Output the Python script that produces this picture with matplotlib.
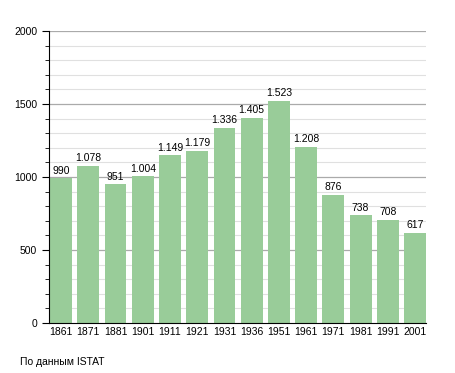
import matplotlib.pyplot as plt
import numpy as np

years = ['1861', '1871', '1881', '1901', '1911', '1921', '1931', '1936',
         '1951', '1961', '1971', '1981', '1991', '2001']
population = [990, 1078, 951, 1004, 1149, 1179, 1336, 1405,
              1523, 1208, 876, 738, 708, 617]
labels = ['990', '1.078', '951', '1.004', '1.149', '1.179', '1.336', '1.405',
          '1.523', '1.208', '876', '738', '708', '617']

plt.rcParams['font.family'] = ['Liberation Sans', 'DejaVu Sans']

fig = plt.figure(figsize=(4.55, 3.73), dpi=100)
ax = fig.add_axes([49 / 455, 1 - 323 / 373, 377 / 455, 292 / 373])

x = np.arange(len(years))
ax.bar(x, population, width=0.8, color='#99cc99', zorder=2)
for xi, v, lab in zip(x, population, labels):
    ax.text(xi, v + 18, lab, ha='center', va='bottom', fontsize=7.5)

ax.set_ylim(0, 2000)
ax.set_xlim(-0.44, 13.4)
ax.set_yticks(np.arange(0, 2001, 500))
ax.set_yticks(np.arange(0, 2001, 100), minor=True)
for y in range(100, 2001, 100):
    if y % 500 == 0:
        ax.axhline(y, color='#aaaaaa', lw=0.9, zorder=1)
    else:
        ax.axhline(y, color='#e0e0e0', lw=0.8, zorder=1)

ax.set_xticks(x)
ax.set_xticklabels(years)
ax.tick_params(axis='x', length=0, labelsize=7.5, pad=3)
ax.tick_params(axis='y', which='major', length=5, labelsize=7.5, direction='out')
ax.tick_params(axis='y', which='minor', length=3, direction='out')
for s in ['top', 'right']:
    ax.spines[s].set_visible(False)
ax.spines['left'].set_linewidth(0.8)
ax.spines['bottom'].set_linewidth(0.8)

fig.text(20 / 455, 1 - 362 / 373, 'По данным ISTAT', fontsize=7.5, va='center')

fig.savefig('out.png', dpi=100)
